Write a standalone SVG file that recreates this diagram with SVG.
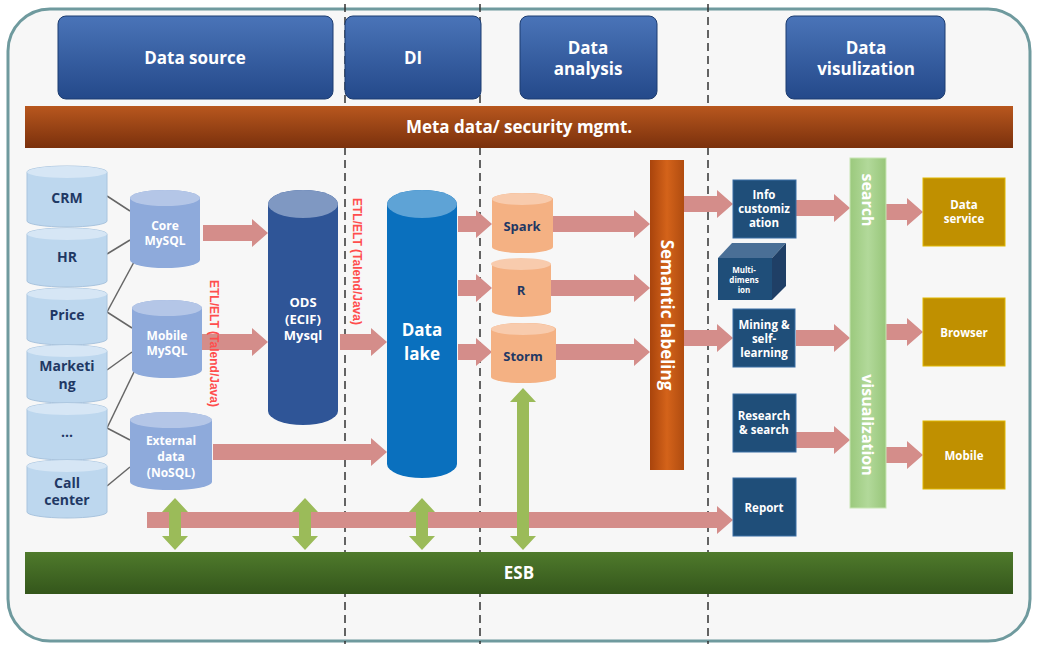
<svg xmlns="http://www.w3.org/2000/svg" width="1037" height="648" viewBox="0 0 1037 648">
<defs>
<linearGradient id="hdr" x1="0" y1="0" x2="0" y2="1"><stop offset="0" stop-color="#4a74b8"/><stop offset="1" stop-color="#24498a"/></linearGradient>
<linearGradient id="meta" x1="0" y1="0" x2="0" y2="1"><stop offset="0" stop-color="#b8571e"/><stop offset="1" stop-color="#7a300c"/></linearGradient>
<linearGradient id="esb" x1="0" y1="0" x2="0" y2="1"><stop offset="0" stop-color="#4f7a2c"/><stop offset="1" stop-color="#34561b"/></linearGradient>
<linearGradient id="sem" x1="0" y1="0" x2="1" y2="0"><stop offset="0" stop-color="#a9440c"/><stop offset="0.5" stop-color="#d4631a"/><stop offset="1" stop-color="#b04c10"/></linearGradient>
<linearGradient id="vis" x1="0" y1="0" x2="1" y2="0"><stop offset="0" stop-color="#9bc97d"/><stop offset="0.5" stop-color="#b2d99a"/><stop offset="1" stop-color="#98c67a"/></linearGradient>
<style>
.t{font-family:"Open Sans","Liberation Sans",sans-serif;font-weight:bold;text-anchor:middle}
.w{fill:#fff}
.d{fill:#1f3864}
.ar{fill:#d48d8a}
.ga{fill:#9bbb59}
.lb{fill:#bdd7ee;stroke:#a9c4de;stroke-width:1}
.lbt{fill:#d6e6f5}
.mb{fill:#8eaadb}
.mbt{fill:#b4c6e7}
.or{fill:#f4b183}
.ort{fill:#f8cbad}
.db{fill:#1f4e79;stroke:#3a6ea5;stroke-width:1}
.gd{fill:#c09000;stroke:#e0b800;stroke-width:1}
.dash{stroke:#333;stroke-width:1.5;stroke-dasharray:8,5}
.etl{font-family:"Liberation Sans",sans-serif;font-size:12px;font-weight:bold;fill:#ff4d4d}
</style>
</defs>
<rect x="0" y="0" width="1037" height="648" fill="#fff"/>
<rect x="8" y="9" width="1022" height="632" rx="42" fill="#f7f7f7" stroke="#6f9a9e" stroke-width="3"/>
<g id="dividers">
<line class="dash" x1="345" y1="4" x2="345" y2="644"/>
<line class="dash" x1="480" y1="4" x2="480" y2="644"/>
<line class="dash" x1="708" y1="4" x2="708" y2="644"/>
</g>
<g id="headers">
<rect x="58" y="16" width="275" height="83" rx="8" fill="url(#hdr)" stroke="#1c3c70"/>
<text class="t w" x="195" y="64" font-size="17">Data source</text>
<rect x="345" y="16" width="136" height="83" rx="8" fill="url(#hdr)" stroke="#1c3c70"/>
<text class="t w" x="413" y="64" font-size="17">DI</text>
<rect x="520" y="16" width="137" height="83" rx="8" fill="url(#hdr)" stroke="#1c3c70"/>
<text class="t w" x="588" y="54" font-size="17">Data</text><text class="t w" x="588" y="75" font-size="17">analysis</text>
<rect x="786" y="16" width="159" height="83" rx="8" fill="url(#hdr)" stroke="#1c3c70"/>
<text class="t w" x="866" y="54" font-size="17">Data</text><text class="t w" x="866" y="75" font-size="17">visulization</text>
</g>
<g id="meta"><rect x="25" y="106" width="988" height="42" fill="url(#meta)"/><text class="t w" x="519" y="133" font-size="17">Meta data/ security mgmt.</text></g>
<g id="esb"><rect x="25" y="552" width="988" height="42" fill="url(#esb)"/><text class="t w" x="519" y="579" font-size="17">ESB</text></g>
<g id="connectors">
<g stroke="#666" stroke-width="1.5">
<line x1="107" y1="196" x2="130" y2="211"/><line x1="107" y1="254" x2="130" y2="240"/>
<line x1="107" y1="312" x2="134" y2="262"/><line x1="107" y1="312" x2="132" y2="328"/>
<line x1="107" y1="370" x2="132" y2="352"/><line x1="107" y1="428" x2="134" y2="372"/>
<line x1="107" y1="428" x2="130" y2="440"/><line x1="107" y1="486" x2="130" y2="467"/>
</g>
<polygon class="ar" points="203,225 252,225 252,219 268,233 252,247 252,241 203,241"/>
<polygon class="ar" points="202,334 252,334 252,328 268,342 252,356 252,350 202,350"/>
<polygon class="ar" points="340,334 371,334 371,328 387,342 371,356 371,350 340,350"/>
<polygon class="ar" points="213,444 371,444 371,438 387,452 371,466 371,460 213,460"/>
<polygon class="ar" points="458,216 476,216 476,210 492,224 476,238 476,232 458,232"/>
<polygon class="ar" points="458,280 476,280 476,274 492,288 476,302 476,296 458,296"/>
<polygon class="ar" points="458,344 476,344 476,338 492,352 476,366 476,360 458,360"/>
<polygon class="ar" points="553,216 634,216 634,210 650,224 634,238 634,232 553,232"/>
<polygon class="ar" points="551,280 634,280 634,274 650,288 634,302 634,296 551,296"/>
<polygon class="ar" points="556,344 634,344 634,338 650,352 634,366 634,360 556,360"/>
<polygon class="ar" points="684,196 717,196 717,190 733,204 717,218 717,212 684,212"/>
<polygon class="ar" points="684,330 717,330 717,324 733,338 717,352 717,346 684,346"/>
<polygon class="ar" points="796,200 834,200 834,194 850,208 834,222 834,216 796,216"/>
<polygon class="ar" points="796,330 834,330 834,324 850,338 834,352 834,346 796,346"/>
<polygon class="ar" points="796,432 834,432 834,426 850,440 834,454 834,448 796,448"/>
<polygon class="ar" points="886,204 907,204 907,198 923,212 907,226 907,220 886,220"/>
<polygon class="ar" points="886,324 907,324 907,318 923,332 907,346 907,340 886,340"/>
<polygon class="ar" points="886,447 907,447 907,441 923,455 907,469 907,463 886,463"/>
<polygon class="ar" points="147,512 717,512 717,506 733,520 717,534 717,528 147,528"/>
<polygon class="ga" points="162,512 175,498 188,512 181,512 181,536 188,536 175,550 162,536 169,536 169,512"/>
<polygon class="ga" points="292,512 305,498 318,512 311,512 311,536 318,536 305,550 292,536 299,536 299,512"/>
<polygon class="ga" points="409,512 422,498 435,512 428,512 428,536 435,536 422,550 409,536 416,536 416,512"/>
<polygon class="ga" points="510,402 523,388 536,402 529,402 529,536 536,536 523,550 510,536 517,536 517,402"/>
</g>
<g id="etl1"><text class="etl" x="210" y="280" transform="rotate(90 210 280)">ETL/ELT (Talend/Java)</text></g>
<g id="etl2"><text class="etl" x="353" y="198" transform="rotate(90 353 198)">ETL/ELT (Talend/Java)</text></g>
<g id="crm"><path class="lb" d="M27,172 A40,6 0 0 1 107,172 V221 A40,6 0 0 1 27,221 Z"/><ellipse class="lbt" cx="67" cy="172" rx="40" ry="6"/><text class="t d" x="67" y="203" font-size="14">CRM</text></g>
<g id="hr"><path class="lb" d="M27,234 A40,6 0 0 1 107,234 V281 A40,6 0 0 1 27,281 Z"/><ellipse class="lbt" cx="67" cy="234" rx="40" ry="6"/><text class="t d" x="67" y="262" font-size="14">HR</text></g>
<g id="price"><path class="lb" d="M27,294 A40,6 0 0 1 107,294 V339 A40,6 0 0 1 27,339 Z"/><ellipse class="lbt" cx="67" cy="294" rx="40" ry="6"/><text class="t d" x="67" y="320" font-size="14">Price</text></g>
<g id="marketing"><path class="lb" d="M27,351 A40,6 0 0 1 107,351 V397 A40,6 0 0 1 27,397 Z"/><ellipse class="lbt" cx="67" cy="351" rx="40" ry="6"/><text class="t d" x="67" y="371" font-size="14">Marketi</text><text class="t d" x="67" y="389" font-size="14">ng</text></g>
<g id="etc"><path class="lb" d="M27,409 A40,6 0 0 1 107,409 V454 A40,6 0 0 1 27,454 Z"/><ellipse class="lbt" cx="67" cy="409" rx="40" ry="6"/><text class="t d" x="67" y="437" font-size="14">...</text></g>
<g id="callcenter"><path class="lb" d="M27,466 A40,6 0 0 1 107,466 V512 A40,6 0 0 1 27,512 Z"/><ellipse class="lbt" cx="67" cy="466" rx="40" ry="6"/><text class="t d" x="67" y="488" font-size="14">Call</text><text class="t d" x="67" y="505" font-size="14">center</text></g>
<g id="core"><path class="mb" d="M130,198 A35,8 0 0 1 200,198 V260 A35,8 0 0 1 130,260 Z"/><ellipse class="mbt" cx="165" cy="198" rx="35" ry="8"/><text class="t w" x="165" y="230" font-size="12">Core</text><text class="t w" x="165" y="245" font-size="12">MySQL</text></g>
<g id="mobile"><path class="mb" d="M132,308 A35,8 0 0 1 202,308 V370 A35,8 0 0 1 132,370 Z"/><ellipse class="mbt" cx="167" cy="308" rx="35" ry="8"/><text class="t w" x="167" y="340" font-size="12">Mobile</text><text class="t w" x="167" y="355" font-size="12">MySQL</text></g>
<g id="external"><path class="mb" d="M130,420 A41,8 0 0 1 212,420 V482 A41,8 0 0 1 130,482 Z"/><ellipse class="mbt" cx="171" cy="420" rx="41" ry="8"/><text class="t w" x="171" y="445" font-size="12">External</text><text class="t w" x="171" y="461" font-size="12">data</text><text class="t w" x="171" y="477" font-size="12">(NoSQL)</text></g>
<g id="ods"><path fill="#2f5597" d="M268,204 A35,14 0 0 1 338,204 V411 A35,14 0 0 1 268,411 Z"/><ellipse fill="#7f98c2" cx="303" cy="204" rx="35" ry="14"/><text class="t w" x="303" y="307" font-size="13">ODS</text><text class="t w" x="303" y="324" font-size="13">(ECIF)</text><text class="t w" x="303" y="340" font-size="13">Mysql</text></g>
<g id="datalake"><path fill="#0a70be" d="M387,204 A35,14 0 0 1 457,204 V464 A35,14 0 0 1 387,464 Z"/><ellipse fill="#5ea3d6" cx="422" cy="204" rx="35" ry="14"/><text class="t w" x="422" y="336" font-size="17">Data</text><text class="t w" x="422" y="360" font-size="17">lake</text></g>
<g id="spark"><path class="or" d="M492,199 A30,6 0 0 1 553,199 V247 A30,6 0 0 1 492,247 Z"/><ellipse class="ort" cx="522" cy="199" rx="30" ry="6"/><text class="t d" x="522" y="231" font-size="13">Spark</text></g>
<g id="r"><path class="or" d="M492,264 A30,6 0 0 1 551,264 V312 A30,6 0 0 1 492,312 Z"/><ellipse class="ort" cx="521" cy="264" rx="30" ry="6"/><text class="t d" x="521" y="295" font-size="13">R</text></g>
<g id="storm"><path class="or" d="M491,329 A32,6 0 0 1 556,329 V377 A32,6 0 0 1 491,377 Z"/><ellipse class="ort" cx="523" cy="329" rx="32" ry="6"/><text class="t d" x="523" y="361" font-size="13">Storm</text></g>
<g id="semantic"><rect x="650" y="160" width="34" height="310" fill="url(#sem)"/><text class="t w" transform="rotate(90 667 315)" x="667" y="321" font-size="17">Semantic labeling</text></g>
<g id="info"><rect class="db" x="733" y="180" width="63" height="58"/><text class="t w" x="764" y="199" font-size="11.5">Info</text><text class="t w" x="764" y="213" font-size="11.5">customiz</text><text class="t w" x="764" y="227" font-size="11.5">ation</text></g>
<g id="multi"><polygon fill="#4a6f96" points="718,258 732,243 786,243 772,258"/><polygon fill="#1f3f66" points="772,258 786,243 786,286 772,300"/><rect fill="#1f4e79" x="718" y="258" width="54" height="42"/><text class="t w" x="744" y="273" font-size="8">Multi-</text><text class="t w" x="744" y="283" font-size="8">dimens</text><text class="t w" x="744" y="293" font-size="8">ion</text></g>
<g id="mining"><rect class="db" x="733" y="309" width="62" height="58"/><text class="t w" x="764" y="329" font-size="11.5">Mining &amp;</text><text class="t w" x="764" y="343" font-size="11.5">self-</text><text class="t w" x="764" y="357" font-size="11.5">learning</text></g>
<g id="research"><rect class="db" x="733" y="394" width="63" height="58"/><text class="t w" x="764" y="420" font-size="11.5">Research</text><text class="t w" x="764" y="434" font-size="11.5">&amp; search</text></g>
<g id="report"><rect class="db" x="733" y="478" width="63" height="58"/><text class="t w" x="764" y="512" font-size="11.5">Report</text></g>
<g id="searchvis"><rect x="850" y="158" width="36" height="350" fill="url(#vis)" stroke="#c8e6b4"/><text class="t w" transform="rotate(90 868 200)" x="868" y="206" font-size="16">search</text><text class="t w" transform="rotate(90 868 425)" x="868" y="431" font-size="16">visualization</text></g>
<g id="dataservice"><rect class="gd" x="923" y="178" width="82" height="68"/><text class="t w" x="964" y="209" font-size="11.5">Data</text><text class="t w" x="964" y="223" font-size="11.5">service</text></g>
<g id="browser"><rect class="gd" x="923" y="298" width="82" height="68"/><text class="t w" x="964" y="337" font-size="11.5">Browser</text></g>
<g id="mobilebox"><rect class="gd" x="923" y="421" width="82" height="68"/><text class="t w" x="964" y="460" font-size="11.5">Mobile</text></g>
</svg>
